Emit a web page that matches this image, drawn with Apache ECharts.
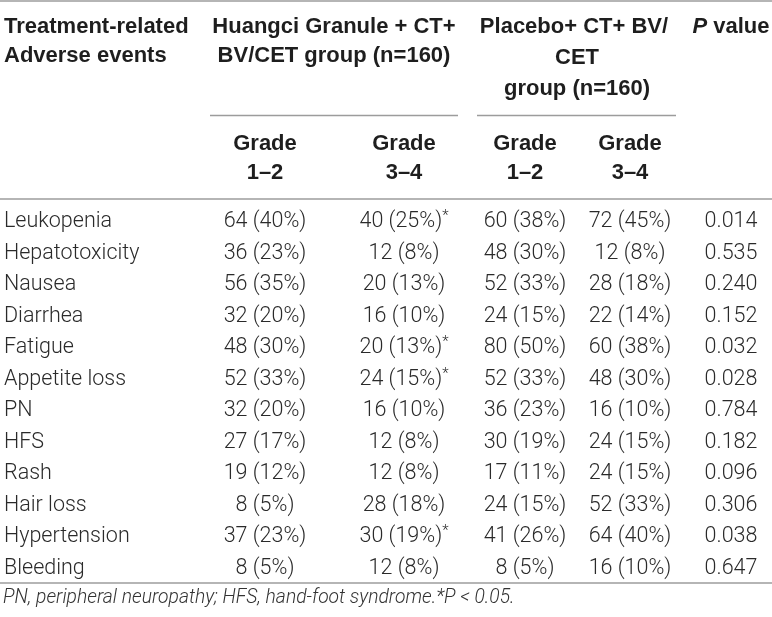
<!DOCTYPE html>
<html>
<head>
<meta charset="utf-8">
<script src="https://cdn.jsdelivr.net/npm/echarts@6/dist/echarts.min.js"></script>
<style>
html, body { margin: 0; padding: 0; background: #fff; }
#main { width: 772px; height: 617px; }
</style>
</head>
<body>
<div id="main"></div>
<script>
// table rows
var events = ['Leukopenia', 'Hepatotoxicity', 'Nausea', 'Diarrhea', 'Fatigue', 'Appetite loss',
    'PN', 'HFS', 'Rash', 'Hair loss', 'Hypertension', 'Bleeding'];

// Huangci Granule + CT+ BV/CET group
var hcLowN = [64, 36, 56, 32, 48, 52, 32, 27, 19, 8, 37, 8];
var hcLowPct = [40, 23, 35, 20, 30, 33, 20, 17, 12, 5, 23, 5];
var hcHighN = [40, 12, 20, 16, 20, 24, 16, 12, 12, 28, 30, 12];
var hcHighPct = [25, 8, 13, 10, 13, 15, 10, 8, 8, 18, 19, 8];
var hcHighSig = [1, 0, 0, 0, 1, 1, 0, 0, 0, 0, 1, 0];

// Placebo+ CT+ BV/CET group
var plLowN = [60, 48, 52, 24, 80, 52, 36, 30, 17, 24, 41, 8];
var plLowPct = [38, 30, 33, 15, 50, 33, 23, 19, 11, 15, 26, 5];
var plHighN = [72, 12, 28, 22, 60, 48, 16, 24, 24, 52, 64, 16];
var plHighPct = [45, 8, 18, 14, 38, 30, 10, 15, 15, 33, 40, 10];

var pValues = [0.014, 0.535, 0.240, 0.152, 0.032, 0.028, 0.784, 0.182, 0.096, 0.306, 0.038, 0.647];

var gradeLabels = ['1–2', '3–4', '1–2', '3–4'];

// layout: column centres in px
var colX = [265, 404, 525, 630, 731];
var bodyFont = 'Roboto';
var headFont = 'Liberation Sans';
var bodySize = 21.5;
var headSize = 22;
var txtColor = '#2a2a2a';
var ruleColor = '#9c9c9c';

function fmt(n, p) {
    return n + ' (' + p + '%)';
}

var cells = [];
events.forEach(function (ev, i) {
    cells.push([colX[0], i, fmt(hcLowN[i], hcLowPct[i]), 0]);
    cells.push([colX[1], i, fmt(hcHighN[i], hcHighPct[i]), hcHighSig[i]]);
    cells.push([colX[2], i, fmt(plLowN[i], plLowPct[i]), 0]);
    cells.push([colX[3], i, fmt(plHighN[i], plHighPct[i]), 0]);
    cells.push([colX[4], i, pValues[i].toFixed(3), 0]);
});

var myChart = echarts.init(document.getElementById('main'), null, {renderer: 'canvas'});

function headText(x, y, text, align) {
    return {
        type: 'text', x: x, y: y, silent: true,
        style: {
            text: text, align: align || 'center', verticalAlign: 'middle',
            font: 'bold ' + headSize + 'px "' + headFont + '"', fill: '#1e1e1e'
        }
    };
}

function rule(x1, x2, y) {
    return {
        type: 'line', silent: true,
        shape: {x1: x1, y1: y, x2: x2, y2: y},
        style: {stroke: ruleColor, lineWidth: 1.5}
    };
}

var graphics = [
    rule(0, 772, 1),
    rule(210, 458, 115.5),
    rule(477, 676, 115.5),
    rule(0, 772, 199),
    rule(0, 772, 583),
    headText(4, 27, 'Treatment-related', 'left'),
    headText(4, 56, 'Adverse events', 'left'),
    headText(334, 27, 'Huangci Granule + CT+'),
    headText(334, 56, 'BV/CET group (n=160)'),
    headText(574, 27, 'Placebo+ CT+ BV/'),
    headText(577, 58, 'CET'),
    headText(577, 89, 'group (n=160)'),
    {
        type: 'text', x: colX[4], y: 27, silent: true,
        style: {
            text: '{i|P}{b| value}', align: 'center', verticalAlign: 'middle',
            rich: {
                i: {fontFamily: headFont, fontSize: headSize, fontWeight: 'bold', fontStyle: 'italic', fill: '#1e1e1e'},
                b: {fontFamily: headFont, fontSize: headSize, fontWeight: 'bold', fill: '#1e1e1e'}
            }
        }
    },
    {
        type: 'text', left: 3, top: 589, silent: true,
        style: {
            text: 'PN, peripheral neuropathy; HFS, hand-foot syndrome.*P < 0.05.',
            font: 'italic 300 19.3px "' + bodyFont + '"', fill: '#333'
        }
    }
];
gradeLabels.forEach(function (g, j) {
    graphics.push(headText(colX[j], 144, 'Grade'));
    graphics.push(headText(colX[j], 173, g));
});

var option = {
    animation: false,
    graphic: graphics,
    grid: {left: 0, right: 0, top: 206, bottom: 33},
    xAxis: {type: 'value', min: 0, max: 772, show: false},
    yAxis: {
        type: 'category',
        data: events,
        inverse: true,
        axisLine: {show: false},
        axisTick: {show: false},
        splitLine: {show: false},
        axisLabel: {
            inside: true, margin: 4,
            fontFamily: bodyFont, fontWeight: 300, fontSize: bodySize, color: txtColor
        }
    },
    series: [{
        type: 'custom',
        data: cells,
        encode: {x: 0, y: 1},
        renderItem: function (params, api) {
            var pt = api.coord([api.value(0), api.value(1)]);
            var d = cells[params.dataIndex];
            var txt = '{v|' + d[2] + '}' + (d[3] ? '{s|*}' : '');
            return {
                type: 'text',
                x: pt[0], y: pt[1],
                style: {
                    text: txt, align: 'center', verticalAlign: 'middle',
                    rich: {
                        v: {fontFamily: bodyFont, fontWeight: 300, fontSize: bodySize, fill: txtColor, lineHeight: 26},
                        s: {fontFamily: bodyFont, fontWeight: 300, fontSize: 15, fill: txtColor,
                            lineHeight: 26, verticalAlign: 'top'}
                    }
                }
            };
        }
    }]
};

myChart.setOption(option);
</script>
</body>
</html>
